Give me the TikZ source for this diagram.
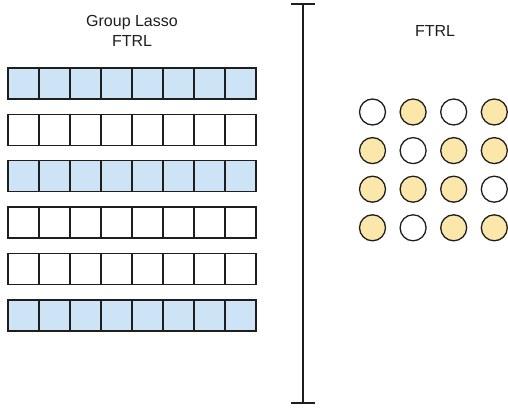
\documentclass[tikz,border=0pt]{standalone}
\usepackage{fontspec}
\setmainfont{Liberation Sans}
\definecolor{cellblue}{HTML}{CCE4F5}
\definecolor{dotyellow}{HTML}{FCE7AA}
\definecolor{edge}{HTML}{1E1E1E}
\begin{document}
\begin{tikzpicture}[x=1pt,y=-1pt,
  cell/.style={draw=edge,line width=1.4pt,minimum width=31pt,minimum height=31pt,inner sep=0pt,outer sep=0pt},
  dot/.style={draw=edge,line width=1.3pt,circle,minimum size=26pt,inner sep=0pt},
  title/.style={font=\fontsize{16}{20}\selectfont,text=edge,align=center,inner sep=0pt},
  axis/.style={draw=edge,line width=1.4pt}]
\useasboundingbox (0,0) rectangle (508,411);
\node[title] (t1) at (132,31) {Group Lasso\\FTRL};
\node[title] (t2) at (435,31) {FTRL};
% grid rows
\foreach \r/\f in {0/cellblue,1/white,2/cellblue,3/white,4/white,5/cellblue}{
  \foreach \c in {0,...,7}{
    \node[cell,fill=\f] (s\r\c) at ({23.5+31*\c},{83.5+46.4*\r}) {};
  }
}
% circles
\foreach \i/\row in {0/{0,1,0,1},1/{1,0,1,1},2/{1,1,1,0},3/{1,0,1,1}}{
  \foreach \v [count=\j from 0] in \row {
    \ifnum\v=1 \def\fc{dotyellow}\else\def\fc{white}\fi
    \node[dot,fill=\fc] (d\i\j) at ({372.5+40.6*\j},{112+38.6*\i}) {};
  }
}
% divider
\coordinate (top) at (303,4);
\coordinate (bot) at (303,403);
\coordinate (tl) at (291,4);
\coordinate (tr) at (315,4);
\coordinate (bl) at (291,403);
\coordinate (br) at (315,403);
\draw[axis] (top) -- (bot);
\draw[axis] (tl) -- (tr);
\draw[axis] (bl) -- (br);
\end{tikzpicture}
\end{document}
